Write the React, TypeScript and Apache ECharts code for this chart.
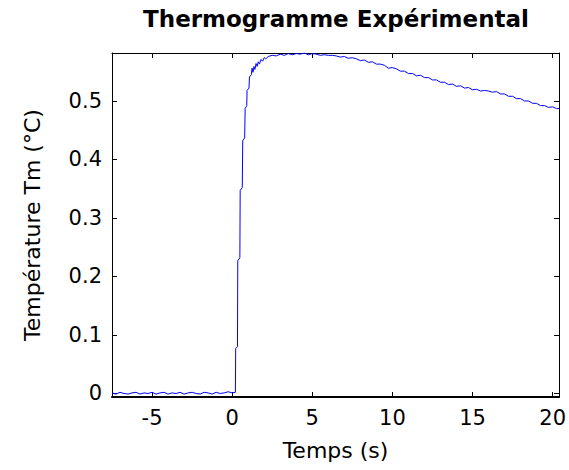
import React, { useEffect, useRef } from "react";
import * as echarts from "echarts";

const chartTitle = "Thermogramme Expérimental";
const xAxisName = "Temps (s)";
const yAxisName = "Température Tm (°C)";

const xRange = [-7.5, 20.4];
const yRange = [-0.006, 0.582];

const timeSec = [
  -7.5, -7.25, -7.0, -6.75, -6.5, -6.25, -6.0, -5.75, -5.5, -5.25,
  -5.0, -4.75, -4.5, -4.25, -4.0, -3.75, -3.5, -3.25, -3.0, -2.75,
  -2.5, -2.25, -2.0, -1.75, -1.5, -1.25, -1.0, -0.75, -0.5, -0.25,
  0.0, 0.2,
  0.22, 0.33, 0.35, 0.48, 0.5, 0.63, 0.66, 0.78, 0.81, 0.91,
  0.93, 1.05, 1.08, 1.2, 1.24, 1.3, 1.36, 1.42, 1.49, 1.56,
  1.63, 1.7, 1.8, 1.9, 2.0, 2.1,
  2.25, 2.5, 2.75, 3.0, 3.25, 3.5, 3.75, 4.0, 4.25, 4.5,
  4.75, 5.0, 5.25, 5.5, 5.75, 6.0, 6.25, 6.5, 6.75, 7.0,
  7.25, 7.5, 7.75, 8.0, 8.25, 8.5, 8.75, 9.0, 9.25, 9.5,
  9.75, 10.0, 10.25, 10.5, 10.75, 11.0, 11.25, 11.5, 11.75, 12.0,
  12.25, 12.5, 12.75, 13.0, 13.25, 13.5, 13.75, 14.0, 14.25, 14.5,
  14.75, 15.0, 15.25, 15.5, 15.75, 16.0, 16.25, 16.5, 16.75, 17.0,
  17.25, 17.5, 17.75, 18.0, 18.25, 18.5, 18.75, 19.0, 19.25, 19.5,
  19.75, 20.0, 20.25, 20.4,
];

const tempC = [
  0.001, -0.001, 0.002, 0.0, -0.001, 0.001, 0.002, -0.001, 0.001, 0.0,
  0.002, -0.001, 0.001, 0.002, -0.001, 0.001, 0.0, 0.002, -0.001, 0.001,
  0.002, 0.0, -0.001, 0.002, 0.001, -0.001, 0.002, 0.0, 0.001, 0.003,
  0.001, 0.002,
  0.077, 0.08, 0.227, 0.232, 0.347, 0.352, 0.432, 0.437, 0.487, 0.492,
  0.518, 0.522, 0.541, 0.545, 0.556, 0.549, 0.559, 0.554, 0.564, 0.559,
  0.567, 0.563, 0.571, 0.568, 0.574, 0.572,
  0.576, 0.578, 0.577, 0.58, 0.578, 0.581, 0.579, 0.581, 0.58, 0.582,
  0.579, 0.581, 0.58, 0.578, 0.579, 0.578, 0.578, 0.577, 0.575, 0.576,
  0.573, 0.574, 0.572, 0.569, 0.57, 0.566, 0.567, 0.563, 0.563, 0.561,
  0.556, 0.557, 0.555, 0.551, 0.551, 0.547, 0.547, 0.543, 0.544, 0.54,
  0.54, 0.536, 0.536, 0.532, 0.532, 0.528, 0.529, 0.525, 0.526, 0.522,
  0.523, 0.519, 0.52, 0.517, 0.518, 0.517, 0.515, 0.516, 0.512, 0.512,
  0.508, 0.508, 0.504, 0.504, 0.5, 0.5, 0.496, 0.496, 0.492, 0.492,
  0.489, 0.49, 0.487, 0.487,
];

const FONT = "DejaVu Sans";

export default function App() {
  const ref = useRef<HTMLDivElement>(null);

  useEffect(() => {
    if (!ref.current) return;
    const chart = echarts.init(ref.current, null, { renderer: "svg" });
    const data = timeSec.map((t, i) => [t, tempC[i]]);

    const baseAxis = {
      type: "value" as const,
      axisLine: { show: true, onZero: false, lineStyle: { color: "#000", width: 1 } },
      axisTick: { show: true, inside: true, length: 5, lineStyle: { color: "#000", width: 1 } },
      splitLine: { show: false },
    };

    chart.setOption({
      animation: false,
      backgroundColor: "#fff",
      grid: { left: 112, right: 6, top: 53, bottom: 73, containLabel: false },
      graphic: [
        {
          type: "text",
          x: 336,
          y: 19,
          style: {
            text: chartTitle,
            font: `bold 23px "${FONT}"`,
            fill: "#000",
            textAlign: "center",
            textVerticalAlign: "middle",
          },
        },
      ],
      xAxis: [
        {
          ...baseAxis,
          axisLine: { show: true, onZero: false, lineStyle: { color: "#000", width: 2 } },
          min: xRange[0],
          max: xRange[1],
          position: "bottom",
          name: xAxisName,
          nameLocation: "middle",
          nameGap: 42,
          nameTextStyle: { fontFamily: FONT, fontSize: 22, color: "#000" },
          axisLabel: {
            show: true,
            showMinLabel: false,
            showMaxLabel: false,
            fontFamily: FONT,
            fontSize: 21,
            color: "#000",
            margin: 10,
          },
        },
        {
          ...baseAxis,
          min: xRange[0],
          max: xRange[1],
          position: "top",
          axisLabel: { show: false },
        },
      ],
      yAxis: [
        {
          ...baseAxis,
          min: yRange[0],
          max: yRange[1],
          position: "left",
          name: yAxisName,
          nameLocation: "middle",
          nameGap: 69,
          nameRotate: 90,
          nameTextStyle: { fontFamily: FONT, fontSize: 22, color: "#000" },
          axisLabel: {
            show: true,
            showMinLabel: false,
            showMaxLabel: false,
            fontFamily: FONT,
            fontSize: 21,
            color: "#000",
            margin: 10,
          },
        },
        {
          ...baseAxis,
          min: yRange[0],
          max: yRange[1],
          position: "right",
          axisLabel: { show: false },
        },
      ],
      series: [
        {
          type: "line",
          xAxisIndex: 0,
          yAxisIndex: 0,
          data,
          showSymbol: false,
          symbol: "none",
          lineStyle: { color: "#0000ff", width: 1 },
        },
      ],
    });

    return () => chart.dispose();
  }, []);

  return (
    <div
      ref={ref}
      style={{ position: "fixed", left: 0, top: 0, width: 569, height: 470, background: "#fff" }}
    />
  );
}
